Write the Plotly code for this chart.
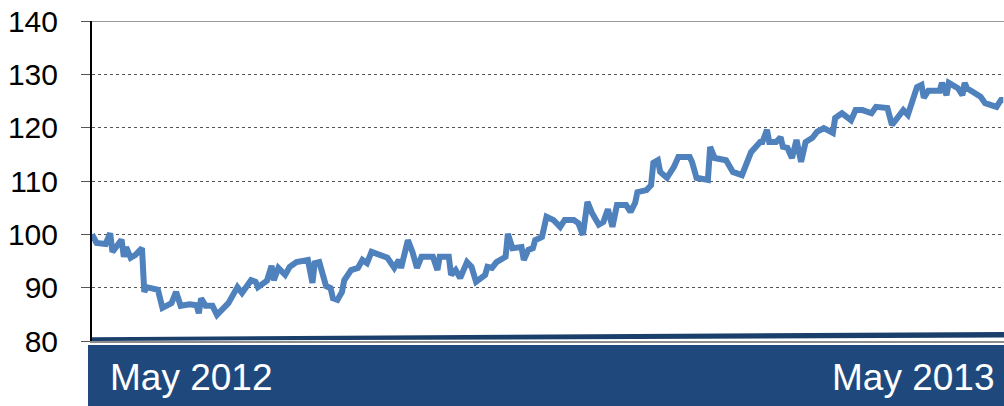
import pandas as pd
import plotly.graph_objects as go

start_date = "2012-05-01"
# calendar days since start_date
days = [0, 2, 6, 8, 9, 11, 13, 14, 15, 17, 19, 22, 23, 24, 29, 31, 33, 35, 37, 39,
        43, 46, 47, 48, 50, 53, 55, 57, 60, 64, 66, 70, 72, 73, 77, 79, 80, 82, 85, 87,
        90, 95, 97, 98, 100, 103, 105, 106, 108, 110, 111, 114, 117, 119, 121, 123, 126, 127, 130, 133,
        135, 136, 139, 141, 143, 145, 150, 152, 153, 157, 158, 160, 162, 165, 167, 169, 173, 174, 176, 178,
        182, 183, 185, 189, 190, 192, 194, 195, 198, 200, 203, 206, 208, 212, 214, 216, 217, 218, 220, 223,
        225, 227, 229, 231, 235, 237, 239, 240, 244, 246, 247, 249, 250, 253, 256, 258, 263, 264, 266, 271,
        272, 274, 279, 282, 286, 288, 290, 294, 295, 297, 298, 301, 303, 304, 306, 308, 310, 312, 314, 317,
        319, 322, 326, 327, 330, 334, 336, 339, 343, 345, 350, 352, 355, 357, 359, 361, 363, 365, 366, 368,
        373, 374, 376, 377, 381, 383, 384, 385, 391, 393, 398, 400, 401]
values = [100.0, 98.4, 98.2, 100.2, 96.7, 98.0, 99.0, 95.8, 97.6, 95.6, 96.1, 97.4, 89.2, 90.1, 89.6, 86.2, 86.7, 87.1, 89.2, 86.6,
          86.9, 86.7, 85.2, 88.0, 86.6, 86.6, 84.9, 85.8, 87.1, 90.1, 89.0, 91.4, 91.1, 90.1, 91.3, 94.1, 91.4, 93.7, 92.4, 93.9,
          94.8, 95.2, 90.9, 94.6, 94.8, 90.3, 89.9, 88.0, 87.7, 89.2, 91.4, 93.3, 93.7, 95.2, 94.6, 96.7, 96.1, 96.0, 95.6, 93.7,
          95.2, 93.7, 98.9, 96.7, 93.7, 95.8, 95.8, 93.3, 95.8, 95.8, 92.4, 93.3, 91.8, 94.8, 93.9, 91.1, 92.4, 93.9, 93.7, 94.8,
          95.8, 100.1, 97.4, 97.6, 95.2, 97.1, 97.4, 98.9, 99.5, 103.3, 102.7, 101.4, 102.7, 102.7, 102.1, 99.9, 103.3, 106.1, 104.0, 101.8,
          102.3, 104.7, 101.4, 105.5, 105.5, 104.2, 105.9, 107.9, 108.3, 109.2, 113.4, 113.9, 111.7, 110.6, 112.6, 114.5, 114.5, 113.6, 110.6, 110.2,
          116.4, 114.3, 113.9, 111.7, 111.1, 113.0, 115.4, 117.3, 117.3, 119.6, 117.3, 117.3, 118.2, 116.4, 116.2, 114.3, 117.7, 113.6, 117.3, 118.1,
          119.2, 119.9, 119.0, 121.8, 122.7, 121.4, 123.3, 123.3, 122.7, 123.9, 123.7, 120.5, 122.4, 123.3, 122.4, 125.2, 127.6, 128.0, 125.6, 126.9,
          126.9, 128.4, 126.1, 128.4, 127.4, 126.1, 128.4, 127.4, 125.8, 124.6, 123.9, 125.2, 125.2]

y_ticks = [80, 90, 100, 110, 120, 130, 140]
band_labels = ["May 2012", "May 2013"]

dates = pd.Timestamp(start_date) + pd.to_timedelta(days, unit="D")
x_end = pd.Timestamp(start_date) + pd.Timedelta(days=401.3)

NAVY = "#1F497D"
FONT = "Liberation Sans, Arial, sans-serif"

fig = go.Figure()
fig.add_trace(go.Scatter(
    x=dates, y=values, mode="lines",
    line=dict(color="#4F81BD", width=6, shape="linear"),
    hoverinfo="skip", showlegend=False,
))

fig.update_layout(
    width=1004, height=406,
    margin=dict(l=92, r=0, t=21, b=65),
    paper_bgcolor="white", plot_bgcolor="white",
    xaxis=dict(
        range=[pd.Timestamp(start_date), x_end],
        showticklabels=False, showgrid=False, zeroline=False,
        ticks="", showline=True, linecolor="#8c8c8c", linewidth=2,
    ),
    yaxis=dict(
        range=[80, 140], tickvals=y_ticks, ticktext=[str(v) for v in y_ticks],
        ticks="outside", ticklen=9, tickwidth=1, tickcolor="#555555",
        showline=True, linecolor="black", linewidth=2,
        showgrid=True, gridcolor="#555555", gridwidth=1, griddash="dot",
        zeroline=False,
        tickfont=dict(family=FONT, size=30, color="black"),
        ticklabelstandoff=17,
    ),
    shapes=[
        # top border at 140
        dict(type="line", xref="paper", yref="y", x0=0, x1=1, y0=140, y1=140,
             line=dict(color="#9a9a9a", width=2), layer="above"),
        # slanted navy wedge above the x axis
        dict(type="path", xref="paper", yref="paper",
             path="M 0 0.0 L 0 0.0115 L 1 0.0285 L 1 0.011 Z",
             fillcolor="#1B3F6B", line=dict(width=0), layer="above"),
        # navy band below the plot
        dict(type="rect", xref="paper", yref="paper",
             x0=-4 / 912, x1=1, y0=-0.21, y1=-0.0125,
             fillcolor=NAVY, line=dict(width=0), layer="above"),
    ],
    annotations=[
        dict(text=band_labels[0], xref="paper", yref="paper", x=16 / 912, y=-0.1141,
             xanchor="left", yanchor="middle", showarrow=False,
             font=dict(family=FONT, size=37, color="white")),
        dict(text=band_labels[1], xref="paper", yref="paper", x=905 / 912, y=-0.1141,
             xanchor="right", yanchor="middle", showarrow=False,
             font=dict(family=FONT, size=37, color="white")),
    ],
)

fig.write_html(
    "out.html",
    config={"displayModeBar": False, "staticPlot": True},
    post_script="document.body.style.margin='0';document.body.style.overflow='hidden';",
)
